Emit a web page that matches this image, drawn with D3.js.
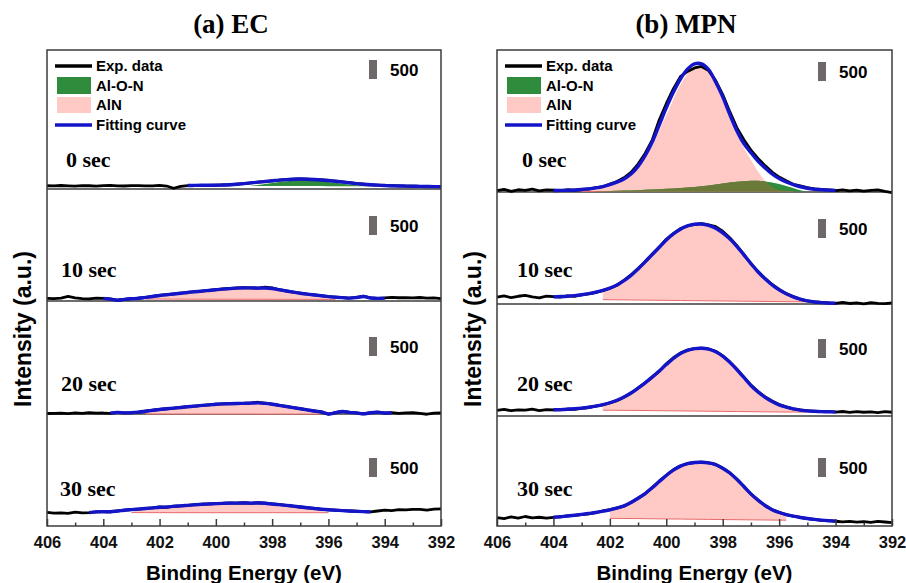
<!DOCTYPE html>
<html>
<head>
<meta charset="utf-8">
<script src="https://cdn.jsdelivr.net/npm/d3@7/dist/d3.min.js"></script>
<style>
  html, body { margin: 0; padding: 0; background: #fff; }
  svg { display: block; }
  .sans { font-family: "Liberation Sans", Arial, sans-serif; font-weight: bold; }
  .serif { font-family: "Liberation Serif", "Times New Roman", serif; font-weight: bold; }
</style>
</head>
<body>
<svg id="chart" width="906" height="583"></svg>
<script>
// ---------- data ----------
// N 1s binding-energy grid of the measured spectra (eV)
const bindingEnergy = [406, 405.75, 405.5, 405.25, 405, 404.75, 404.5, 404.25, 404, 403.75,
  403.5, 403.25, 403, 402.75, 402.5, 402.25, 402, 401.75, 401.5, 401.25,
  401, 400.75, 400.5, 400.25, 400, 399.75, 399.5, 399.25, 399, 398.75,
  398.5, 398.25, 398, 397.75, 397.5, 397.25, 397, 396.75, 396.5, 396.25,
  396, 395.75, 395.5, 395.25, 395, 394.75, 394.5, 394.25, 394, 393.75,
  393.5, 393.25, 393, 392.75, 392.5, 392.25, 392];

const panelTitles = ["(a) EC", "(b) MPN"];
const etchTimes = ["0 sec", "10 sec", "20 sec", "30 sec"];
const legendLabels = ["Exp. data", "Al-O-N", "AlN", "Fitting curve"];
const majorTicks = [406, 404, 402, 400, 398, 396, 394, 392];
const minorTicks = [405, 403, 401, 399, 397, 395, 393];
const scaleBarCounts = 500;

// EC: measured intensity (counts)
const ecExp0 = [86,80,92,84,78,90,85,76,88,94, 82,79,87,91,80,84,95,78,20,70,
  90,95,98,92,100,105,112,125,140,160, 180,195,215,235,250,262,265,258,250,238,
  225,205,185,165,140,125,110,100,92,85, 80,78,72,70,66,63,60];
const ecExp1 = [70,62,75,120,85,60,55,78,70,55, 20,45,60,72,95,120,150,170,185,205,
  228,245,262,280,300,318,332,345,352,348, 340,362,345,300,265,235,205,180,160,140,
  115,100,88,75,95,125,80,70,80,95, 85,88,80,92,75,80,60];
const ecExp2 = [40,45,50,38,55,42,60,48,52,45, 70,55,60,75,100,125,150,165,180,200,
  218,235,255,268,285,295,300,305,310,320, 335,310,285,255,225,195,165,135,105,80,
  20,60,95,70,55,30,60,75,50,60, 45,55,60,40,20,50,55];
const ecExp3 = [360,340,345,330,365,345,352,370,380,372, 395,420,432,445,462,475,500,490,520,530,
  545,560,572,580,590,598,605,600,612,598, 615,600,580,565,545,522,500,480,462,440,
  425,418,405,395,388,380,372,395,420,405, 430,425,440,435,418,445,452];

// MPN: measured intensity (counts)
const mpnExp0 = [60,95,45,85,70,100,55,80,75,60, 85,70,95,105,140,165,235,300,400,545,
  760,1040,1390,1920,2350,2740,3060,3200,3290,3330, 3220,2960,2590,2140,1720,1400,1130,910,720,550,
  420,320,230,185,140,110,95,80,60,85, 55,75,50,70,80,40,10];
const mpnExp1 = [210,240,195,230,255,215,190,235,220,205, 240,225,270,290,330,380,440,520,650,790,
  960,1140,1330,1520,1730,1880,2010,2080,2120,2140, 2110,2060,1940,1770,1560,1330,1090,880,700,540,
  410,300,220,150,110,80,70,55,45,70, 40,55,30,60,45,35,55];
const mpnExp2 = [175,200,165,190,180,205,170,195,185,190, 210,200,230,250,285,320,370,430,520,630,
  760,900,1050,1200,1400,1560,1680,1760,1800,1810, 1790,1730,1610,1450,1260,1050,840,670,530,420,
  330,265,215,185,165,150,140,150,130,145, 120,140,125,135,115,140,125];
const mpnExp3 = [220,195,240,210,250,215,230,205,225,240, 265,280,300,320,350,395,430,480,520,620,
  730,850,1010,1180,1335,1480,1580,1640,1670,1680, 1660,1620,1520,1400,1230,1040,840,680,540,430,
  360,300,260,225,195,175,150,140,125,110, 120,100,115,95,120,105,90];

// fitted envelopes, sampled on the same grid starting at the given energy
const ecFit0 = [92,95,97,97,100,105,112,124,140,160, 180,198,216,234,248,258,262,258,250,238,
  222,204,184,163,143,126,112,101,92,85, 80,76,72,69,66,63,61];
const ecFit1 = [70,50,22,42,58,72,95,118,145,165, 183,203,225,243,260,278,296,313,327,338,
  345,345,340,342,328,296,264,234,205,180, 158,138,115,100,88,76,92,118,80,68, 75];
const ecFit2 = [48,68,55,60,75,98,122,146,163,180, 198,216,233,252,266,282,292,298,303,307,
  312,318,305,283,254,224,194,164,134,104, 78,25,60,92,70,55,32,60,72,52, 58];
const ecFit3 = [352,372,378,375,393,415,430,444,460,476, 495,500,517,530,544,558,570,579,588,596,
  602,602,607,602,606,597,580,564,544,522, 500,480,461,441,426,416,404,394,386,379, 373];
const mpnFit0 = [65,68,72,80,92,110,135,170,220,285, 370,500,700,980,1340,1790,2240,2650,3000,3260,
  3400,3400,3250,2920,2530,2070,1640,1300,1060,840, 660,500,380,290,220,165,125,100,85,75, 68];
const mpnFit1 = [215,222,232,248,270,298,335,385,445,525, 640,780,950,1135,1330,1520,1710,1870,1995,2080,
  2125,2130,2095,2020,1900,1740,1545,1320,1090,875, 690,530,400,295,215,155,110,80,62,52, 45];
const mpnFit2 = [190,195,205,218,235,258,288,325,375,440, 525,630,760,900,1050,1210,1380,1540,1670,1755,
  1800,1810,1785,1715,1600,1440,1250,1040,830,660, 520,410,320,260,212,182,162,150,142,137, 135];
const mpnFit3 = [230,245,262,282,305,330,355,390,425,470, 530,620,730,855,1005,1170,1330,1470,1575,1640,
  1670,1678,1660,1615,1520,1395,1230,1040,845,680, 540,430,355,300,258,225,198,175,155,140, 128];
const fitStart = [[401, 404, 403.75, 404.5], [404, 404, 404, 404]];

// deconvoluted components: [energy, background, background + component]
const ecAlON0 = [[398.75,82,86],[398.5,81,105],[398,80,160],[397.5,79,205],[397,78,225],
  [396.5,77,215],[396,75,185],[395.5,73,140],[395,71,100],[394.5,69,72]];
const ecAlN1 = [[402.5,50,55],[402,50,110],[401.5,49,165],[401,48,215],[400.5,47,255],
  [400,46,290],[399.5,46,318],[399,45,330],[398.5,45,325],[398,44,300],[397.5,44,245],
  [397,43,185],[396.5,43,130],[396,42,70],[395.75,42,45]];
const ecAlN2 = [[402.5,28,32],[402,28,130],[401.5,27,170],[401,27,205],[400.5,26,245],
  [400,26,272],[399.5,26,288],[399,26,295],[398.5,25,300],[398,25,268],[397.5,25,210],
  [397,25,150],[396.75,25,110],[396.5,24,60],[396.25,24,28]];
const ecAlN3 = [[403,352,365],[402.5,352,440],[402,351,480],[401.5,351,505],[401,351,535],
  [400.5,350,560],[400,350,578],[399.5,350,592],[399,350,596],[398.5,350,592],[398,350,568],
  [397.5,350,530],[397,350,480],[396.5,350,425],[396.25,350,385],[396,350,352]];
const mpnAlN0 = [[403,40,50],[402.5,40,90],[402,40,185],[401.5,40,350],[401,40,660],
  [400.5,40,1250],[400,40,2050],[399.5,40,2850],[399,40,3300],[398.75,40,3340],[398.5,40,3180],
  [398,40,2450],[397.5,40,1560],[397,40,870],[396.5,40,320],[396.25,40,160],[396,40,80],[395.5,40,42]];
const mpnAlON0 = [[402.5,40,45],[402,40,55],[401.5,40,65],[401,40,75],[400.5,40,90],
  [400,40,110],[399.5,40,130],[399,40,160],[398.5,40,200],[398,40,250],[397.5,40,295],
  [397,40,320],[396.75,40,325],[396.5,40,305],[396,40,240],[395.5,40,130],[395.25,40,70],[395,40,42]];
const mpnAlN1 = [[402.25,140,370],[402,138,420],[401.5,135,620],[401,130,920],[400.5,126,1300],
  [400,122,1680],[399.5,118,1960],[399,114,2090],[398.75,112,2100],[398.5,110,2060],[398,106,1860],
  [397.5,102,1500],[397,98,1050],[396.5,94,650],[396,90,370],[395.5,86,190],[395,82,90]];
const mpnAlN2 = [[402.25,180,315],[402,178,360],[401.5,175,505],[401,172,735],[400.5,168,1020],
  [400,164,1345],[399.5,160,1630],[399,156,1770],[398.75,154,1780],[398.5,152,1750],[398,148,1565],
  [397.5,144,1215],[397,140,800],[396.5,136,490],[396,132,290],[395.5,130,195],[395,128,150]];
const mpnAlN3 = [[402,200,415],[401.5,198,515],[401,195,705],[400.5,190,980],[400,186,1300],
  [399.5,182,1550],[399,178,1650],[398.75,176,1660],[398.5,174,1640],[398,170,1495],
  [397.5,166,1205],[397,162,820],[396.5,158,520],[396,154,340],[395.75,152,285]];

// ---------- layout ----------
const layout = {
  top: 50, bottom: 526, barPx: 19,
  labelY: [167, 277, 391, 496],
  columns: [
    { x0: 47, x1: 441, titleX: 231, zeroY: [189, 301, 415, 526], dividers: [189, 301, 414],
      barTop: [60, 216, 337, 458], barX: 369, labelX: [66, 61, 61, 60], legendX: 55, yTitleX: 31 },
    { x0: 497, x1: 892, titleX: 686, zeroY: [193, 305, 417, 526], dividers: [192, 304, 416],
      barTop: [62, 219, 339, 458], barX: 818, labelX: [522, 517, 517, 517], legendX: 505, yTitleX: 481 }
  ]
};

const colors = { exp: "#000000", fit: "#1414c8", alon: "#2e8c3c", overlap: "#6b7a38",
  aln: "#ffc9c5", alnEdge: "#e86a6a", frame: "#3c3c3c", bar: "#6e6868" };

const spectra = [
  [ { exp: ecExp0, fit: ecFit0, alon: ecAlON0, aln: null },
    { exp: ecExp1, fit: ecFit1, alon: null, aln: ecAlN1 },
    { exp: ecExp2, fit: ecFit2, alon: null, aln: ecAlN2 },
    { exp: ecExp3, fit: ecFit3, alon: null, aln: ecAlN3 } ],
  [ { exp: mpnExp0, fit: mpnFit0, alon: mpnAlON0, aln: mpnAlN0 },
    { exp: mpnExp1, fit: mpnFit1, alon: null, aln: mpnAlN1 },
    { exp: mpnExp2, fit: mpnFit2, alon: null, aln: mpnAlN2 },
    { exp: mpnExp3, fit: mpnFit3, alon: null, aln: mpnAlN3 } ]
];

// ---------- drawing ----------
const svg = d3.select("#chart");
const defs = svg.append("defs");

layout.columns.forEach((col, c) => {
  const g = svg.append("g");
  const x = d3.scaleLinear().domain([406, 392]).range([col.x0, col.x1]);
  const cx = (col.x0 + col.x1) / 2;

  // title
  g.append("text").attr("class", "serif").attr("x", col.titleX).attr("y", 33)
    .attr("text-anchor", "middle").attr("font-size", 27).text(panelTitles[c]);

  // sub-panel dividers
  g.selectAll("line.div").data(col.dividers).join("line")
    .attr("x1", col.x0).attr("x2", col.x1).attr("y1", d => d).attr("y2", d => d)
    .attr("stroke", colors.frame).attr("stroke-width", 1.5);

  spectra[c].forEach((s, p) => {
    const y = d3.scaleLinear().domain([0, scaleBarCounts])
      .range([col.zeroY[p], col.zeroY[p] - layout.barPx]);
    const area = d3.area().x(d => x(d[0])).y0(d => y(d[1])).y1(d => y(d[2]))
      .curve(d3.curveMonotoneX);
    const pg = g.append("g");

    if (s.aln) {
      pg.append("path").attr("d", area(s.aln)).attr("fill", colors.aln);
      pg.append("path").attr("d", d3.line().x(d => x(d[0])).y(d => y(d[1]))(s.aln))
        .attr("fill", "none").attr("stroke", colors.alnEdge).attr("stroke-width", 1);
    }
    if (s.alon) {
      pg.append("path").attr("d", area(s.alon)).attr("fill", colors.alon);
      if (s.aln) {
        const id = `alnclip-${c}-${p}`;
        defs.append("clipPath").attr("id", id).append("path").attr("d", area(s.aln));
        pg.append("path").attr("d", area(s.alon)).attr("fill", colors.overlap)
          .attr("clip-path", `url(#${id})`);
      }
    }

    const expPts = bindingEnergy.map((e, i) => [e, s.exp[i]]);
    pg.append("path").attr("d", d3.line().x(d => x(d[0])).y(d => y(d[1]))(expPts))
      .attr("fill", "none").attr("stroke", colors.exp).attr("stroke-width", 2.8)
      .attr("stroke-linejoin", "round");

    const i0 = bindingEnergy.indexOf(fitStart[c][p]);
    const fitPts = s.fit.map((v, i) => [bindingEnergy[i0 + i], v]);
    pg.append("path").attr("d", d3.line().x(d => x(d[0])).y(d => y(d[1]))
        .curve(d3.curveCatmullRom)(fitPts))
      .attr("fill", "none").attr("stroke", colors.fit).attr("stroke-width", 3.4)
      .attr("stroke-linejoin", "round");

    // intensity scale bar
    pg.append("rect").attr("x", col.barX).attr("width", 8)
      .attr("y", col.barTop[p])
      .attr("height", y(0) - y(scaleBarCounts)).attr("fill", colors.bar);
    pg.append("text").attr("class", "sans").attr("x", col.barX + 21)
      .attr("y", col.barTop[p] + 16).attr("font-size", 17).text(scaleBarCounts);

    pg.append("text").attr("class", "serif").attr("x", col.labelX[p])
      .attr("y", layout.labelY[p]).attr("font-size", 22).text(etchTimes[p]);
  });

  // legend
  const lx = col.legendX;
  const lg = g.append("g").attr("class", "sans").attr("font-size", 15);
  lg.append("line").attr("x1", lx).attr("x2", lx + 37).attr("y1", 66).attr("y2", 66)
    .attr("stroke", colors.exp).attr("stroke-width", 3.4);
  lg.append("rect").attr("x", lx + 2).attr("y", 77).attr("width", 34).attr("height", 17)
    .attr("fill", colors.alon);
  lg.append("rect").attr("x", lx + 2).attr("y", 97).attr("width", 34).attr("height", 16)
    .attr("fill", colors.aln);
  lg.append("line").attr("x1", lx).attr("x2", lx + 37).attr("y1", 125).attr("y2", 125)
    .attr("stroke", colors.fit).attr("stroke-width", 3.6);
  lg.selectAll("text").data(legendLabels).join("text")
    .attr("x", lx + 41).attr("y", (d, i) => [71, 91, 110, 130][i]).text(d => d);

  // x axis: major and minor ticks pointing inward
  const axisG = g.append("g").attr("transform", `translate(0,${layout.bottom})`);
  axisG.call(d3.axisBottom(x).tickValues(majorTicks).tickSize(-7).tickPadding(10.5)
      .tickFormat(d3.format("d")))
    .call(a => a.select(".domain").remove())
    .call(a => a.selectAll("line").attr("stroke", colors.frame).attr("stroke-width", 1.5))
    .call(a => a.selectAll("text").attr("class", "sans").attr("font-size", 16.5)
      .attr("fill", "#111"));
  const minorG = g.append("g").attr("transform", `translate(0,${layout.bottom})`);
  minorG.call(d3.axisBottom(x).tickValues(minorTicks).tickSize(-3.5).tickFormat(""))
    .call(a => a.select(".domain").remove())
    .call(a => a.selectAll("line").attr("stroke", colors.frame).attr("stroke-width", 1.5));

  g.append("text").attr("class", "sans").attr("x", cx).attr("y", 580)
    .attr("text-anchor", "middle").attr("font-size", 20.5).text("Binding Energy (eV)");
  g.append("text").attr("class", "sans").attr("font-size", 23).attr("text-anchor", "middle")
    .attr("transform", `translate(${col.yTitleX},329) rotate(-90)`).text("Intensity (a.u.)");

  // outer frame
  g.append("rect").attr("x", col.x0).attr("y", layout.top)
    .attr("width", col.x1 - col.x0).attr("height", layout.bottom - layout.top)
    .attr("fill", "none").attr("stroke", colors.frame).attr("stroke-width", 1.5);
});
</script>
</body>
</html>
